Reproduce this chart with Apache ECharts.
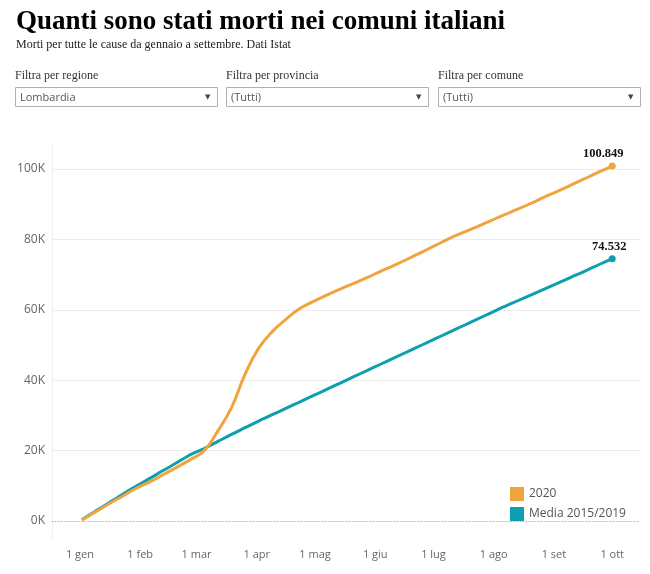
<!DOCTYPE html>
<html>
<head>
<meta charset="utf-8">
<script src="https://cdn.jsdelivr.net/npm/echarts@6/dist/echarts.min.js"></script>
<style>
html,body{margin:0;padding:0;background:#fff;}
#chart{width:650px;height:574px;}
</style>
</head>
<body>
<div id="chart"></div>
<script>
// ---- data (cumulative deaths, weekly readings) ----
const dates = ['2020-01-02','2020-01-09','2020-01-16','2020-01-23','2020-01-30','2020-02-06','2020-02-13','2020-02-20','2020-02-27','2020-03-05','2020-03-12','2020-03-19','2020-03-26','2020-04-02','2020-04-09','2020-04-16','2020-04-23','2020-04-30','2020-05-07','2020-05-14','2020-05-21','2020-05-28','2020-06-04','2020-06-11','2020-06-18','2020-06-25','2020-07-02','2020-07-09','2020-07-16','2020-07-23','2020-07-30','2020-08-06','2020-08-13','2020-08-20','2020-08-27','2020-09-03','2020-09-10','2020-09-17','2020-09-24','2020-10-01'];
const values2020 = [300,2600,4900,7100,9300,11100,13200,15300,17500,20000,25600,32200,41700,49100,53800,57300,60300,62300,64200,65900,67500,69200,71000,72700,74500,76400,78300,80200,81900,83500,85200,86900,88500,90200,92000,93700,95500,97300,99100,100849];
const valuesMedia = [350,2800,5200,7600,9900,12100,14400,16600,18900,20600,22600,24600,26500,28400,30200,32000,33800,35600,37400,39200,41000,42800,44600,46400,48200,50000,51800,53600,55400,57200,59000,60800,62500,64200,65900,67600,69300,71000,72800,74532];
const seriesNames = ['2020','Media 2015/2019'];
const monthNames = ['gen','feb','mar','apr','mag','giu','lug','ago','set','ott','nov','dic'];
const yTicks = [0,20000,40000,60000,80000,100000];
const filterLabels = ['Filtra per regione','Filtra per provincia','Filtra per comune'];
const filterValues = ['Lombardia','(Tutti)','(Tutti)'];

const COL_ORANGE = '#f0a43e';
const COL_TEAL = '#0e9fae';

function fmtIt(v){
  const t = Math.floor(v/1000), r = v % 1000;
  return t + '.' + String(r).padStart(3,'0');
}
function parseD(s){ const p=s.split('-').map(Number); return new Date(p[0],p[1]-1,p[2]).getTime(); }

function buildData(values, color, offX){
  return dates.map((d,i)=>{
    const item = {value:[parseD(d), values[i]]};
    if(i === dates.length-1){
      item.symbol = 'circle';
      item.symbolSize = 7;
      item.itemStyle = {color: color};
      item.label = {show:true, position:'top', distance:2, offset:[offX,0],
        formatter: fmtIt(values[i]), fontFamily:'Liberation Serif', fontWeight:'bold', fontSize:12.5, color:'#111'};
    }
    return item;
  });
}

const DAY = 86400000;
const jan1 = parseD('2020-01-01');
const oct1 = parseD('2020-10-01');

const boxX = [15, 226, 438];
const boxW = 202;
const graphics = [];
boxX.forEach((x,i)=>{
  graphics.push({type:'text', left:x, top:70, style:{text:filterLabels[i], font:'12px "Liberation Serif"', fill:'#333'}});
  graphics.push({type:'rect', shape:{x:x+0.5, y:87.5, width:boxW, height:19}, style:{fill:'#fff', stroke:'#b0b0b0', lineWidth:1}});
  graphics.push({type:'text', x:x+5, y:97.5, style:{text:filterValues[i], font:'11px "Open Sans"', fill:'#555', textVerticalAlign:'middle'}});
  graphics.push({type:'text', x:x+boxW-12, y:97.5, style:{text:'▼', font:'7px "DejaVu Sans"', fill:'#444', textVerticalAlign:'middle'}});
});
graphics.push({type:'line', shape:{x1:52.5, y1:145, x2:52.5, y2:540}, style:{stroke:'#f0f0f0', lineWidth:1}, z:0});

const chart = echarts.init(document.getElementById('chart'), null, {renderer:'canvas'});
chart.setOption({
  animation:false,
  backgroundColor:'#fff',
  title:{
    text:'Quanti sono stati morti nei comuni italiani',
    subtext:'Morti per tutte le cause da gennaio a settembre. Dati Istat',
    left:11, top:4, itemGap:3,
    textStyle:{fontFamily:'Liberation Serif', fontWeight:'bold', fontSize:27, color:'#000'},
    subtextStyle:{fontFamily:'Liberation Serif', fontSize:12, color:'#222'}
  },
  graphic:graphics,
  legend:{
    orient:'vertical', left:505, top:482, itemWidth:14, itemHeight:14, itemGap:6,
    icon:'rect', data:seriesNames,
    textStyle:{fontFamily:'Open Sans', fontSize:12, color:'#555'}
  },
  grid:{left:52, right:10, top:169, bottom:53},
  xAxis:{
    type:'time',
    min: jan1 - 14.4*DAY,
    max: oct1 + 14.3*DAY,
    axisLine:{show:true, lineStyle:{type:[1,2], color:'#b8b8b8', width:1}},
    axisTick:{show:false},
    splitLine:{show:false},
    axisLabel:{
      margin:28, color:'#666', fontFamily:'Open Sans', fontSize:11,
      showMinLabel:false, showMaxLabel:false,
      formatter:function(v){ const d=new Date(v); return d.getDate()===1 ? '1 '+monthNames[d.getMonth()] : ''; }
    }
  },
  yAxis:{
    type:'value', min:yTicks[0], max:yTicks[yTicks.length-1], interval:yTicks[1]-yTicks[0],
    axisLine:{show:false}, axisTick:{show:false},
    axisLabel:{margin:7, color:'#666', fontFamily:'Open Sans', fontSize:12, formatter:function(v){return (v/1000)+'K';}},
    splitLine:{show:true, showMinLine:false, lineStyle:{color:'#ececec', width:1}}
  },
  series:[
    {name:seriesNames[1], type:'line', data:buildData(valuesMedia, COL_TEAL, -3), smooth:0.3, clip:false,
     showSymbol:true, symbol:'none', lineStyle:{color:COL_TEAL, width:3}, itemStyle:{color:COL_TEAL}, z:2},
    {name:seriesNames[0], type:'line', data:buildData(values2020, COL_ORANGE, -9), smooth:0.45, clip:false,
     showSymbol:true, symbol:'none', lineStyle:{color:COL_ORANGE, width:3}, itemStyle:{color:COL_ORANGE}, z:3}
  ]
});
</script>
</body>
</html>
